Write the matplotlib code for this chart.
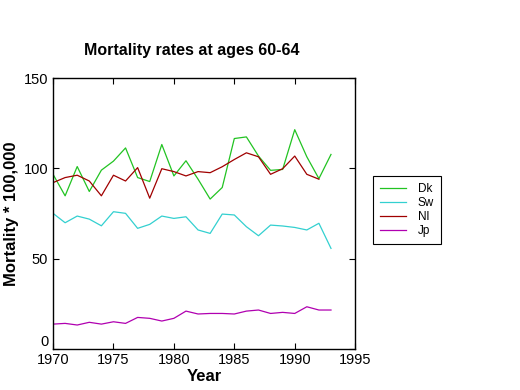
import matplotlib
matplotlib.use("Agg")
import matplotlib.pyplot as plt

plt.rcParams['font.family'] = ['Liberation Sans', 'DejaVu Sans']

# data
years = list(range(1970, 1994))
dk = [96.7, 84.8, 101.0, 87.2, 99.0, 104.0, 111.3, 94.9, 92.7, 113.2, 95.8, 104.2,
      94.0, 83.0, 89.4, 116.5, 117.4, 106.8, 98.9, 99.4, 121.4, 106.4, 94.3, 107.7]
sw = [75.1, 69.9, 73.6, 71.9, 68.2, 76.0, 75.1, 66.8, 69.0, 73.6, 72.3, 73.2,
      65.9, 64.0, 74.7, 74.2, 67.7, 62.7, 68.6, 68.1, 67.3, 65.9, 69.6, 55.7]
nl = [92.1, 94.9, 96.2, 93.0, 84.8, 96.2, 93.0, 100.4, 83.5, 99.8, 98.2, 95.8,
      98.2, 97.6, 100.9, 104.9, 108.6, 106.4, 96.7, 99.8, 106.8, 96.7, 94.0]
jp = [13.8, 14.2, 13.3, 14.8, 13.8, 15.1, 14.2, 17.5, 17.0, 15.5, 17.0, 21.0,
      19.4, 19.7, 19.7, 19.4, 21.0, 21.6, 19.7, 20.3, 19.7, 23.4, 21.6, 21.6]

fig = plt.figure(figsize=(5.2, 3.9), dpi=100)
ax = fig.add_axes([0.102, 0.105, 0.581, 0.695])

ax.plot(years, dk, color='#22c322', lw=0.9, label='Dk')
ax.plot(years, sw, color='#33d0d0', lw=0.9, label='Sw')
ax.plot(years[:len(nl)], nl, color='#a00000', lw=0.9, label='Nl')
ax.plot(years, jp, color='#b000b0', lw=0.9, label='Jp')

ax.set_xlim(1970, 1995)
ax.set_ylim(0, 150)
ax.set_xticks([1970, 1975, 1980, 1985, 1990, 1995])
ax.set_yticks([0, 50, 100, 150])
ax.tick_params(direction='in', top=True, right=True, length=4, labelsize=10.5)
ax.tick_params(axis='x', pad=3)
# the "0" label sits just above the axis line, as in the reference
ax.get_yticklabels()[0].set_verticalalignment('bottom')
for s in ax.spines.values():
    s.set_linewidth(1.0)

ax.set_xlabel('Year', fontsize=12, fontweight='bold', labelpad=1)
ax.set_ylabel('Mortality * 100,000', fontsize=12, fontweight='bold', labelpad=3)
fig.text(192 / 520, 1 - 51 / 390, 'Mortality rates at ages 60-64',
         ha='center', va='center', fontsize=11.5, fontweight='semibold')

leg = fig.legend(loc='center', bbox_to_anchor=(407 / 520, 1 - 210 / 390),
                 fontsize=8.5, handlelength=2.2, fancybox=False,
                 edgecolor='black', framealpha=1, borderpad=0.6,
                 labelspacing=0.15, handletextpad=1.0)
leg.get_frame().set_linewidth(0.8)

fig.savefig('out.png', dpi=100)
